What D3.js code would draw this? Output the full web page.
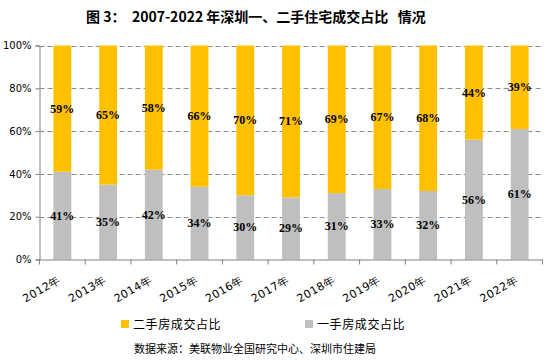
<!DOCTYPE html>
<html><head><meta charset="utf-8">
<script src="https://cdn.jsdelivr.net/npm/d3@7"></script>
<style>body{margin:0;background:#fff}svg{display:block}text{white-space:pre}</style>
</head><body>
<svg id="c" width="557" height="361"></svg>
<script>
const categories = ["2012年","2013年","2014年","2015年","2016年","2017年","2018年","2019年","2020年","2021年","2022年"];
const secondHand = [59,65,58,66,70,71,69,67,68,44,39];
const firstHand  = [41,35,42,34,30,29,31,33,32,56,61];
const yTicks = [0,20,40,60,80,100];
const seriesNames = ["二手房成交占比","一手房成交占比"];
const colors = ["#FFC000","#BFBFBF"];

const svg = d3.select("#c");
const m = {l:39.5, r:542.5, t:45.5, b:259.5};
const x = d3.scaleBand().domain(categories).range([m.l, m.r]).paddingInner(0.61).paddingOuter(0.305);
const xb = d3.scaleBand().domain(categories).range([m.l, m.r]);
const y = d3.scaleLinear().domain([0,100]).range([m.b, m.t]);

svg.append("text").attr("x", 256).attr("y", 22).attr("text-anchor","middle")
  .attr("font-family","'Noto Sans CJK SC'").attr("font-weight","bold").attr("font-size",14)
  .attr("fill","#000").text("图 3：  2007-2022 年深圳一、二手住宅成交占比   情况");

// grid
svg.append("g").selectAll("line").data(yTicks.filter(d=>d>0)).join("line")
  .attr("x1", m.l).attr("x2", m.r).attr("y1", d=>Math.round(y(d))+0.5).attr("y2", d=>Math.round(y(d))+0.5)
  .attr("stroke","#8c8c8c").attr("stroke-dasharray","5,3").attr("stroke-width",1);

// bars
const data = categories.map((c,i)=>({c, a:firstHand[i], b:secondHand[i]}));
const g = svg.append("g");
g.selectAll(".f").data(data).join("rect")
  .attr("x", d=>x(d.c)).attr("width", x.bandwidth())
  .attr("y", d=>y(d.a)).attr("height", d=>y(0)-y(d.a)).attr("fill", colors[1]);
g.selectAll(".s").data(data).join("rect")
  .attr("x", d=>x(d.c)).attr("width", x.bandwidth())
  .attr("y", d=>y(d.a+d.b)).attr("height", d=>y(d.a)-y(d.a+d.b)).attr("fill", colors[0]);

// labels
const lab = svg.append("g").attr("font-family","'Liberation Serif'").attr("font-weight","bold")
  .attr("font-size",12).attr("text-anchor","middle").attr("fill","#000");
lab.selectAll(".lf").data(data).join("text")
  .attr("x", d=>x(d.c)+x.bandwidth()/2).attr("y", d=>y(d.a/2)+4).text(d=>d.a+"%");
lab.selectAll(".ls").data(data).join("text")
  .attr("x", d=>x(d.c)+x.bandwidth()/2).attr("y", d=>y(d.a+d.b/2)+4).text(d=>d.b+"%");

// y axis
const ya = svg.append("g").attr("transform",`translate(${m.l},0)`)
  .call(d3.axisLeft(y).tickValues(yTicks).tickFormat(d=>d+"%").tickSize(4));
ya.select(".domain").attr("stroke","#808080");
ya.selectAll(".tick line").attr("stroke","#808080");
ya.selectAll("text").attr("font-family","'DejaVu Sans'").attr("font-size",10).attr("fill","#000").attr("dx",-1);

// x axis
const xa = svg.append("g").attr("transform",`translate(0,${m.b})`)
  .call(d3.axisBottom(xb).tickSize(0));
xa.select(".domain").attr("stroke","#808080");
xa.selectAll(".tick text").remove();
const edges = categories.map(c=>xb(c)).concat([m.r]);
xa.selectAll(".tk").data(edges).join("line")
  .attr("x1", d=>d).attr("x2", d=>d).attr("y1",0).attr("y2",5).attr("stroke","#808080");
xa.selectAll(".xl").data(categories).join("text")
  .attr("transform", d=>`translate(${xb(d)+xb.bandwidth()/2-1},${22.5}) rotate(-30)`)
  .attr("text-anchor","end").attr("font-family","'DejaVu Sans'").attr("font-size",11)
  .attr("letter-spacing",0.5).attr("fill","#000")
  .text(d=>d);

// legend
const leg = svg.append("g").attr("font-family","'Noto Sans CJK SC'").attr("font-size",12)
  .attr("letter-spacing",0.6).attr("fill","#000");
const lx = [121, 305];
seriesNames.forEach((n,i)=>{
  leg.append("rect").attr("x", lx[i]).attr("y", 320).attr("width",8).attr("height",8).attr("fill", colors[i]);
  leg.append("text").attr("x", lx[i]+12).attr("y", 329).text(n);
});

svg.append("text").attr("x", 255).attr("y", 353).attr("text-anchor","middle")
  .attr("font-family","'Noto Sans CJK SC'").attr("font-size",11).attr("fill","#000")
  .text("数据来源：美联物业全国研究中心、深圳市住建局");
</script>
</body></html>
